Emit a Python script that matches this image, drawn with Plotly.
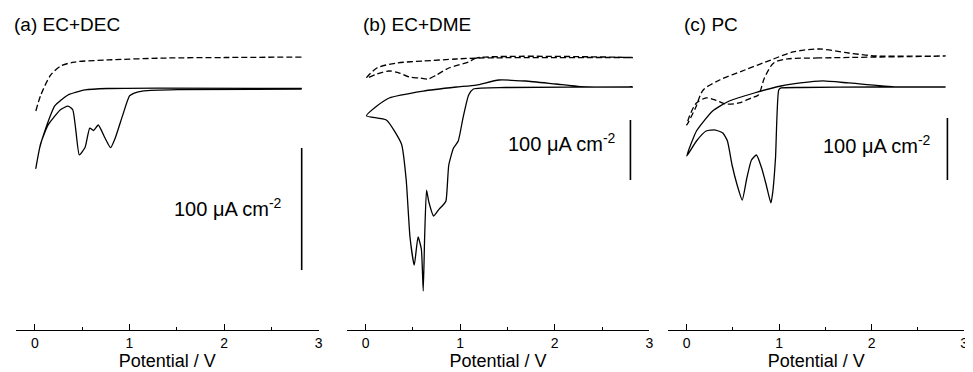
import plotly.graph_objects as go

# ---------------- data (Potential / V, current / uA cm^-2) ----------------
# Panel (a) EC+DEC
a_solid_v = [2.82, 1.5, 1.15, 1.05, 1.0, 0.93, 0.85, 0.8, 0.74, 0.67, 0.62, 0.58, 0.53, 0.47, 0.43, 0.40, 0.35, 0.27, 0.14, 0.06, 0.01,
             0.05, 0.105, 0.21, 0.35, 0.53, 0.77, 1.3, 2.82]
a_solid_i = [0, -0.5, -1.5, -3.3, -5.7, -21, -40, -48, -40, -29.5, -34, -32, -48, -54, -32, -17, -14, -17, -29.5, -45, -65,
             -48.4, -34.4, -13.9, -4.9, -0.8, 0.4, 0.8, 0.4]
a_dash_v = [0.01, 0.063, 0.168, 0.274, 0.421, 0.768, 1.4, 2.01, 2.82]
a_dash_i = [-18.0, -4.9, 11.5, 18.9, 22.1, 23.8, 25.4, 25.8, 26.2]

# Panel (b) EC+DME
b_solid_v = [2.82, 1.48, 1.14, 1.09, 1.03, 0.98, 0.93, 0.88, 0.85, 0.82, 0.78, 0.72, 0.67, 0.645, 0.625, 0.61, 0.59, 0.555, 0.515,
             0.47, 0.43, 0.38, 0.22, 0.01,
             0.12, 0.25, 0.61, 0.96, 1.17, 1.41, 1.69, 2.01, 2.33, 2.82]
b_solid_i = [0, -0.8, -3.3, -13.3, -51.7, -90, -101.7, -130, -190, -196.7, -203, -215, -192, -172, -250, -340, -270, -250, -297,
             -250, -155, -95, -55, -48,
             -31.7, -18.3, -6.7, 0, 3.3, 11.7, 10, 5, 0, 0]
b_dash_v = [2.82, 1.17, 1.09, 0.88, 0.75, 0.66, 0.57, 0.46, 0.36, 0.25, 0.12, 0.01,
            0.12, 0.33, 0.61, 0.96, 1.17, 2.54, 2.82]
b_dash_i = [49.2, 48.3, 41.7, 31.7, 20, 13.3, 15, 16.7, 23.3, 26.7, 21.7, 15,
            31.7, 40, 43.3, 46.7, 48.3, 49.2, 49.2]

# Panel (c) PC
c_solid_v = [2.8, 2.06, 1.23, 1.02, 0.995, 0.96, 0.93, 0.91, 0.86, 0.81, 0.754, 0.70, 0.65, 0.60, 0.545, 0.49, 0.44, 0.39, 0.31,
             0.21, 0.105, 0.0,
             0.105, 0.28, 0.46, 0.73, 1.02, 1.23, 1.47, 1.75, 2.27, 2.8]
c_solid_i = [0, 0, -0.8, -1.6, -4.8, -115, -170, -187, -158, -130.6, -109.7, -117.7, -146.8, -182.3, -158, -125.8, -87.1, -74.2, -69.4,
             -71, -87.1, -111.3,
             -71, -38.7, -22.6, -9.7, 1.6, 6.5, 9.7, 6.5, 0, 0]
c_dash_v = [2.8, 1.43, 1.09, 0.94, 0.84, 0.775, 0.70, 0.565, 0.42, 0.31, 0.21, 0.105, 0.03, 0.0,
            0.094, 0.178, 0.356, 0.628, 0.91, 1.15, 1.43, 1.75, 2.06, 2.8]
c_dash_i = [50, 46.8, 45.2, 38.7, 14.5, -12.9, -17.7, -25.8, -27.4, -21, -17.7, -25.8, -46.8, -61.3,
            -33.9, -4.8, 11.3, 27.4, 43.5, 56.5, 61.3, 54.8, 50, 50]

panel_titles = ["(a) EC+DEC", "(b) EC+DME", "(c) PC"]
x_ticks = [0, 1, 2, 3]
scale_label = "100 \u03bcA cm<sup>-2</sup>"
scale_value = 100
# scale bar position per panel (V, top current)
bar_v = [2.82, 2.80, 2.82]
bar_top = [-48.4, -55, -50]
label_v = [2.63, 2.67, 2.66]
label_i = [-97.5, -93.3, -93.5]

# ---------------- layout geometry ----------------
W, H = 973, 372
x_domains = [[8 / W, 312 / W], [340 / W, 644 / W], [663 / W, 960 / W]]
y_domain = [(H - 322) / H, (H - 30) / H]
y_ranges = [[-197.5, 41.8], [-405, 81.7], [-391.9, 79.0]]

fig = go.Figure()
solids = [(a_solid_v, a_solid_i), (b_solid_v, b_solid_i), (c_solid_v, c_solid_i)]
dashes = [(a_dash_v, a_dash_i), (b_dash_v, b_dash_i), (c_dash_v, c_dash_i)]

for k in range(3):
    xa = "x" if k == 0 else f"x{k+1}"
    ya = "y" if k == 0 else f"y{k+1}"
    fig.add_trace(go.Scatter(x=dashes[k][0], y=dashes[k][1], mode="lines", xaxis=xa, yaxis=ya,
                             line=dict(color="black", width=1.3, dash="6px,3px", shape="spline", smoothing=0.8),
                             showlegend=False, hoverinfo="skip"))
    fig.add_trace(go.Scatter(x=solids[k][0], y=solids[k][1], mode="lines", xaxis=xa, yaxis=ya,
                             line=dict(color="black", width=1.3, shape="spline", smoothing=0.5),
                             showlegend=False, hoverinfo="skip"))
    # scale bar
    fig.add_trace(go.Scatter(x=[bar_v[k], bar_v[k]], y=[bar_top[k], bar_top[k] - scale_value], mode="lines",
                             xaxis=xa, yaxis=ya, line=dict(color="black", width=1.6),
                             showlegend=False, hoverinfo="skip"))
    fig.add_annotation(x=label_v[k], y=label_i[k], xref=xa, yref=ya, text=scale_label, showarrow=False,
                       xanchor="right", yanchor="middle", font=dict(size=20, color="black"))
    fig.add_annotation(x=x_domains[k][0] + (-4 / W if k == 0 else 14 / W), y=1 - 17 / H, xref="paper", yref="paper",
                       text=panel_titles[k], showarrow=False, xanchor="left", yanchor="middle",
                       font=dict(size=19, color="black"))

axis_common = dict(range=[-0.2, 3.0], tickvals=x_ticks, ticks="inside", ticklen=6, tickwidth=1.2,
                   tickcolor="black", showline=True, linecolor="black", linewidth=1.3, showgrid=False,
                   zeroline=False, tickfont=dict(size=14, color="black"),
                   minor=dict(ticks="inside", dtick=0.5, ticklen=3, tickcolor="black", showgrid=False),
                   title=dict(text="Potential / V", font=dict(size=18, color="black"), standoff=4))
layout = dict(width=W, height=H, margin=dict(l=0, r=0, t=0, b=0), paper_bgcolor="white", plot_bgcolor="white",
              font=dict(family="Liberation Sans, Arial, sans-serif", color="black"))
for k in range(3):
    xkey = "xaxis" if k == 0 else f"xaxis{k+1}"
    ykey = "yaxis" if k == 0 else f"yaxis{k+1}"
    ya = "y" if k == 0 else f"y{k+1}"
    layout[xkey] = dict(axis_common, domain=x_domains[k], anchor=ya)
    layout[ykey] = dict(domain=y_domain, range=y_ranges[k], visible=False, anchor="x" if k == 0 else f"x{k+1}")
fig.update_layout(**layout)
fig.write_html("out.html")
